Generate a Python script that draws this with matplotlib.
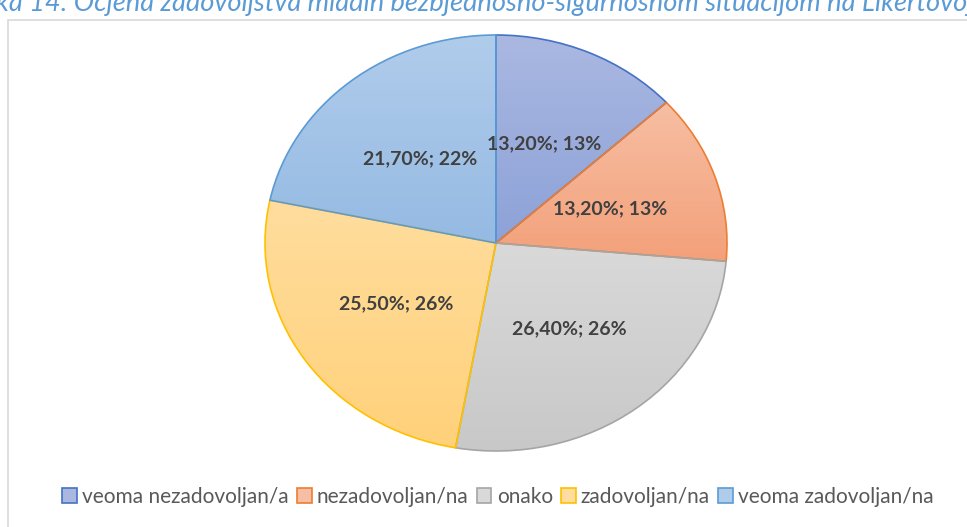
import numpy as np
import matplotlib.pyplot as plt
import matplotlib
from matplotlib.patches import Rectangle, Patch

matplotlib.rc('font', family=['Lato', 'DejaVu Sans'])

categories = ['veoma nezadovoljan/a', 'nezadovoljan/na', 'onako',
              'zadovoljan/na', 'veoma zadovoljan/na']
values = [13.2, 13.2, 26.4, 25.5, 21.7]
light = ['#AAB8E1', '#F7BEA3', '#D9D9D9', '#FFDD9E', '#B0CCEB']
dark = ['#8DA2D8', '#F3A17A', '#C8C8C8', '#FFD17A', '#95BAE3']
edges = ['#4472C4', '#ED7D31', '#A5A5A5', '#FFC000', '#5B9BD5']
labels = [('%.2f%%' % v).replace('.', ',') + '; %d%%' % int(v + 0.5) for v in values]

W, H = 967, 527
fig = plt.figure(figsize=(W / 100, H / 100), dpi=100)

# chart frame
fig.patches.append(Rectangle((8 / W, -0.1), 1.1, 1.1 - 20 / H, transform=fig.transFigure,
                             fill=False, edgecolor='#D9D9D9', lw=1.2))

# caption, clipped at the top like in the source
fig.text(-4 / W, 1 - 11 / H,
         'ka 14: Ocjena zadovoljstva mladih bezbjednosno-sigurnosnom situacijom na Likertovoj skali',
         color='#5B9BD5', fontsize=19.6, style='italic', va='baseline', ha='left')

cx, cy, rx, ry = 496, 243, 231, 208
ax = fig.add_axes([(cx - rx) / W, (H - cy - ry) / H, 2 * rx / W, 2 * ry / H])
wedges, texts = ax.pie(values, startangle=90, counterclock=False, radius=1,
                       wedgeprops=dict(linewidth=1.2))
ax.set_aspect('auto')
ax.axis('off')

for w, lc, dc, ec in zip(wedges, light, dark, edges):
    w.set_facecolor('none')
    w.set_edgecolor(ec)
    w.set_zorder(3)
    verts = w.get_path().vertices
    x0, x1 = verts[:, 0].min(), verts[:, 0].max()
    y0, y1 = verts[:, 1].min(), verts[:, 1].max()
    c1 = np.array(matplotlib.colors.to_rgb(lc))
    c2 = np.array(matplotlib.colors.to_rgb(dc))
    t = np.linspace(0, 1, 64)[:, None]
    grad = (c1 * (1 - t) + c2 * t)[:, None, :]
    im = ax.imshow(grad, extent=(x0, x1, y0, y1), origin='upper', aspect='auto', zorder=2)
    im.set_clip_path(w)

ax.set_xlim(-1, 1)
ax.set_ylim(-1, 1)

ang = 90.0
for v, lab in zip(values, labels):
    mid = np.deg2rad(ang - v * 3.6 / 2)
    ang -= v * 3.6
    ax.text(0.52 * np.cos(mid), 0.52 * np.sin(mid), lab, ha='center', va='center',
            fontsize=14, fontweight='bold', color='#404040', zorder=5)

handles = [Patch(facecolor=lc, edgecolor=ec, lw=1.2) for lc, ec in zip(light, edges)]
fig.legend(handles, categories, loc='center', bbox_to_anchor=(498 / W, 1 - 497 / H), ncol=5,
           frameon=False, fontsize=15, labelcolor='#595959', handlelength=0.7,
           handleheight=0.7, handletextpad=0.25, columnspacing=0.4)

plt.savefig('out.png', dpi=100)
